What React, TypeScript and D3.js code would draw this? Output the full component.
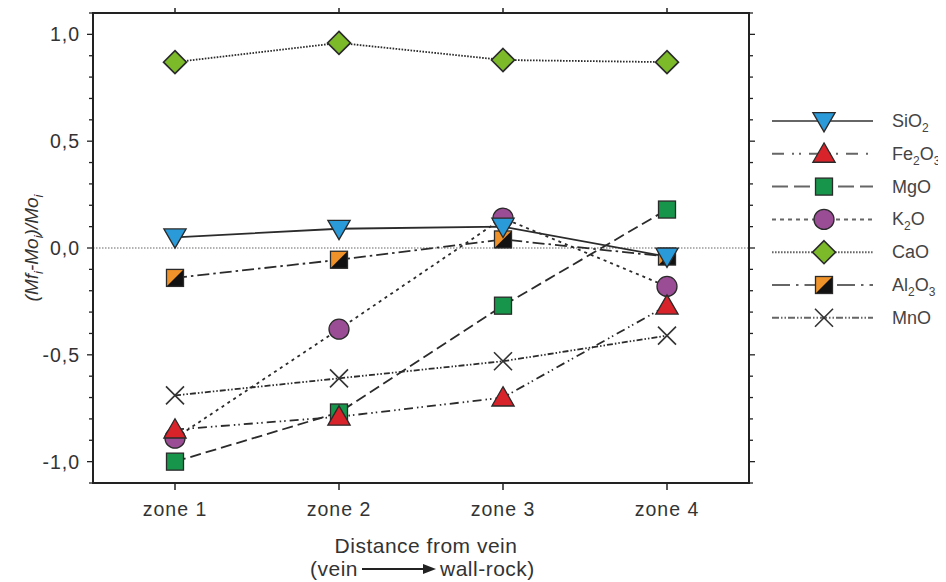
import React from "react";
import * as d3 from "d3";

const zones = ["zone 1", "zone 2", "zone 3", "zone 4"];
const yTicks = [1.0, 0.5, 0.0, -0.5, -1.0];
const yTickLabels = ["1,0", "0,5", "0,0", "-0,5", "-1,0"];

const sio2 = [0.05, 0.09, 0.1, -0.04];
const fe2o3 = [-0.85, -0.79, -0.7, -0.27];
const mgo = [-1.0, -0.77, -0.27, 0.18];
const k2o = [-0.89, -0.38, 0.14, -0.18];
const cao = [0.87, 0.96, 0.88, 0.87];
const al2o3 = [-0.14, -0.055, 0.04, -0.04];
const mno = [-0.69, -0.61, -0.53, -0.41];

type Series = { key: string; name: string; sub?: string; tail?: string; tailSub?: string; values: number[]; dash: string; marker: string; color: string };

const series: Series[] = [
  { key: "al2o3", name: "Al", sub: "2", tail: "O", tailSub: "3", values: al2o3, dash: "12,4,2.5,4", marker: "halfsquare", color: "#f0922a" },
  { key: "mno", name: "MnO", values: mno, dash: "6,2,1.5,2,1.5,2", marker: "x", color: "#222" },
  { key: "mgo", name: "MgO", values: mgo, dash: "11,5", marker: "square", color: "#17954a" },
  { key: "k2o", name: "K", sub: "2", tail: "O", values: k2o, dash: "3,4", marker: "circle", color: "#9a4d94" },
  { key: "fe2o3", name: "Fe", sub: "2", tail: "O", tailSub: "3", values: fe2o3, dash: "9,4,1.5,3,1.5,4", marker: "triangle", color: "#d8232a" },
  { key: "sio2", name: "SiO", sub: "2", values: sio2, dash: "", marker: "tridown", color: "#2a9ad8" },
  { key: "cao", name: "CaO", values: cao, dash: "1.6,1.4", marker: "diamond", color: "#7cba2a" },
];

const legendOrder = ["sio2", "fe2o3", "mgo", "k2o", "cao", "al2o3", "mno"];
const legendDash: Record<string, string> = {
  sio2: "",
  fe2o3: "12,8,2,5,2,8",
  mgo: "16,6",
  k2o: "4,4",
  cao: "1.6,1.4",
  al2o3: "18,6,2.5,6",
  mno: "7,2,1.5,2,1.5,2",
};

const L = 93, R = 749, T = 13, B = 483;
const x = d3.scalePoint<string>().domain(zones).range([L, R]).padding(0.5);
const y = d3.scaleLinear().domain([-1.1, 1.1]).range([B, T]);

function Marker({ type, color, cx, cy }: { type: string; color: string; cx: number; cy: number }) {
  const st = "#2a2a2a";
  const sw = 1.3;
  const h = 8.5;
  if (type === "circle") return <circle cx={cx} cy={cy} r={10} fill={color} stroke={st} strokeWidth={sw} />;
  if (type === "square") return <rect x={cx - h} y={cy - h} width={2 * h} height={2 * h} fill={color} stroke={st} strokeWidth={sw} />;
  if (type === "halfsquare")
    return (
      <g>
        <rect x={cx - h} y={cy - h} width={2 * h} height={2 * h} fill={color} />
        <path d={`M${cx - h},${cy + h}L${cx + h},${cy - h}L${cx + h},${cy + h}Z`} fill="#111" />
        <rect x={cx - h} y={cy - h} width={2 * h} height={2 * h} fill="none" stroke={st} strokeWidth={sw} />
      </g>
    );
  if (type === "triangle") {
    const sym = d3.symbol().type(d3.symbolTriangle).size(215)();
    return <path d={sym as string} transform={`translate(${cx},${cy + 2})`} fill={color} stroke={st} strokeWidth={sw} />;
  }
  if (type === "tridown") {
    const sym = d3.symbol().type(d3.symbolTriangle).size(215)();
    return <path d={sym as string} transform={`translate(${cx},${cy - 2}) rotate(180)`} fill={color} stroke={st} strokeWidth={sw} />;
  }
  if (type === "diamond") {
    const s = 11.5;
    return <path d={`M${cx},${cy - s}L${cx + s},${cy}L${cx},${cy + s}L${cx - s},${cy}Z`} fill={color} stroke={st} strokeWidth={1.6} />;
  }
  if (type === "x") {
    const s = 9;
    return (
      <path d={`M${cx - s},${cy - s}L${cx + s},${cy + s}M${cx - s},${cy + s}L${cx + s},${cy - s}`} stroke="#333" strokeWidth={1.6} fill="none" />
    );
  }
  return null;
}

const font = "Liberation Sans, Arial, sans-serif";

function Label({ s, xPos, yPos }: { s: Series; xPos: number; yPos: number }) {
  return (
    <text x={xPos} y={yPos} fontSize={18} fill="#444" fontFamily={font}>
      {s.name}
      {s.sub ? <tspan fontSize={12} dy={5}>{s.sub}</tspan> : null}
      {s.tail ? <tspan dy={-5}>{s.tail}</tspan> : null}
      {s.tailSub ? <tspan fontSize={12} dy={5}>{s.tailSub}</tspan> : null}
    </text>
  );
}

export default function App() {
  const line = d3
    .line<number>()
    .x((_, i) => x(zones[i]) as number)
    .y((d) => y(d));
  const minor = d3.range(-11, 12).map((v) => v / 10);
  return (
    <svg width={946} height={582} style={{ display: "block", margin: "-8px 0 0 -8px" }} viewBox="0 0 946 582">
      <rect x={0} y={0} width={946} height={582} fill="#fff" />
      {/* zero line */}
      <line x1={L} x2={R} y1={y(0)} y2={y(0)} stroke="#666" strokeWidth={1.2} strokeDasharray="1.5,1.5" />
      {/* series lines */}
      {series.map((s) => (
        <path key={s.key} d={line(s.values) as string} fill="none" stroke="#2b2b2b" strokeWidth={1.8} strokeDasharray={s.dash || undefined} />
      ))}
      {/* markers */}
      {series.map((s) => (
        <g key={s.key + "m"}>
          {s.values.map((v, i) => (
            <Marker key={i} type={s.marker} color={s.color} cx={x(zones[i]) as number} cy={y(v)} />
          ))}
        </g>
      ))}
      {/* frame */}
      <rect x={L} y={T} width={R - L} height={B - T} fill="none" stroke="#222" strokeWidth={2} />
      {/* left ticks */}
      {minor.map((v) => {
        const major = Math.abs(Math.round(v * 10) % 5) === 0;
        return <line key={"l" + v} x1={L - (major ? 6 : 4)} x2={L} y1={y(v)} y2={y(v)} stroke="#222" strokeWidth={1.3} />;
      })}
      {minor.map((v) => {
        const major = Math.abs(Math.round(v * 10) % 5) === 0;
        return <line key={"r" + v} x1={R} x2={R + (major ? 6 : 4)} y1={y(v)} y2={y(v)} stroke="#222" strokeWidth={1.3} />;
      })}
      {zones.map((z) => (
        <g key={z}>
          <line x1={x(z)} x2={x(z)} y1={B} y2={B + 7} stroke="#222" strokeWidth={1.5} />
          <line x1={x(z)} x2={x(z)} y1={T} y2={T - 6} stroke="#222" strokeWidth={1.5} />
          <text x={x(z)} y={516} textAnchor="middle" fontSize={19.5} fill="#333" fontFamily={font} letterSpacing={1}>
            {z}
          </text>
        </g>
      ))}
      {yTicks.map((v, i) => (
        <text key={"yt" + v} x={80} y={y(v) + 7} textAnchor="end" fontSize={19.5} fill="#333" fontFamily={font} letterSpacing={1}>
          {yTickLabels[i]}
        </text>
      ))}
      {/* y label */}
      <text transform={`translate(38,${y(0)}) rotate(-90)`} textAnchor="middle" fontSize={19} fill="#333" fontFamily={font} fontStyle="italic">
        (Mf<tspan fontSize={13} dy={5}>i</tspan>
        <tspan dy={-5}>-Mo</tspan>
        <tspan fontSize={13} dy={5}>i</tspan>
        <tspan dy={-5}>)/Mo</tspan>
        <tspan fontSize={13} dy={5}>i</tspan>
      </text>
      {/* x title */}
      <text x={426} y={553} textAnchor="middle" fontSize={21} fill="#333" fontFamily={font} letterSpacing={0.5}>
        Distance from vein
      </text>
      <text x={310} y={576} fontSize={21} fill="#333" fontFamily={font} letterSpacing={0.5}>
        (vein
      </text>
      <line x1={362} x2={426} y1={569} y2={569} stroke="#222" strokeWidth={1.8} />
      <path d="M436,569L423,564L423,574Z" fill="#222" />
      <text x={440} y={576} fontSize={21} fill="#333" fontFamily={font} letterSpacing={0.5}>
        wall-rock)
      </text>
      {/* legend */}
      {legendOrder.map((k, i) => {
        const s = series.find((d) => d.key === k)!;
        const ly = 121 + i * 32.8;
        return (
          <g key={"lg" + k}>
            <line x1={772} x2={873} y1={ly} y2={ly} stroke="#666" strokeWidth={2} strokeDasharray={legendDash[k] || undefined} />
            <Marker type={s.marker} color={s.color} cx={824} cy={ly} />
            <Label s={s} xPos={892} yPos={ly + 6} />
          </g>
        );
      })}
    </svg>
  );
}
